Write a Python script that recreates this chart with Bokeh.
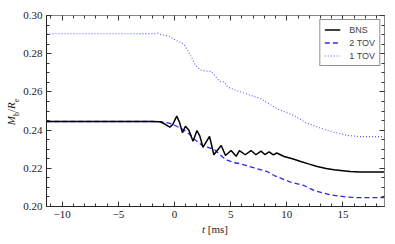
from bokeh.plotting import figure
from bokeh.models import (Range1d, LinearAxis, SingleIntervalTicker, CustomJSTickFormatter,
                          PrintfTickFormatter, Legend, LegendItem, CustomLabelingPolicy, Div)
from bokeh.layouts import column
from bokeh.embed import file_html
from bokeh.resources import INLINE

# ---- data ----
t_bns = [-11.4, -2.0, -1.3, -0.9, -0.42, -0.15, 0.2, 0.45, 0.71, 0.97, 1.27, 1.65, 2.0, 2.25,
         2.53, 3.12, 3.5, 4.16, 4.54, 5.04, 5.49, 5.78, 6.3, 6.81, 7.25, 7.7, 8.05, 8.43, 8.8,
         9.11, 9.76, 10.5, 11.24, 12.0, 12.71, 13.5, 14.19, 15.0, 15.66, 16.5, 17.5, 18.7]
y_bns = [0.2445, 0.2445, 0.2444, 0.2433, 0.2415, 0.2430, 0.2473, 0.2440, 0.2386, 0.2420, 0.2400,
         0.2342, 0.2398, 0.2370, 0.2310, 0.2367, 0.2271, 0.2319, 0.2267, 0.2293, 0.2263, 0.2293,
         0.2271, 0.2293, 0.2271, 0.2290, 0.2272, 0.2286, 0.2270, 0.2280, 0.2262, 0.2250, 0.2236,
         0.2222, 0.2209, 0.2199, 0.2192, 0.2187, 0.2183, 0.2181, 0.2181, 0.2181]

t_2tov = [-11.4, -2.0, -1.3, -0.5, -0.12, 0.76, 1.3, 1.8, 2.39, 3.0, 3.57, 4.3, 4.74, 5.34,
          5.78, 7.1, 8.28, 8.88, 10.35, 11.53, 12.42, 13.9, 15.36, 16.5, 18.7]
y_2tov = [0.2445, 0.2445, 0.2444, 0.2437, 0.2429, 0.2403, 0.2380, 0.2351, 0.2323, 0.2310,
          0.2297, 0.2258, 0.2241, 0.2229, 0.2225, 0.2202, 0.2182, 0.2162, 0.2127, 0.2110,
          0.2084, 0.2061, 0.2049, 0.2046, 0.2046]

t_1tov = [-11.4, -1.74, -1.5, -1.3, -0.42, 0.02, 0.62, 0.91, 1.35, 1.8, 2.24, 2.68, 3.27, 3.57,
          4.0, 4.45, 4.74, 5.34, 5.93, 7.7, 9.17, 10.65, 11.8, 13.6, 15.4, 16.5, 18.7]
y_1tov = [0.2904, 0.2905, 0.2908, 0.2901, 0.2890, 0.2873, 0.2857, 0.2843, 0.2800, 0.2747,
          0.2716, 0.2710, 0.2707, 0.2686, 0.2656, 0.2651, 0.2625, 0.2611, 0.2599, 0.2564,
          0.2511, 0.2476, 0.2436, 0.2398, 0.2372, 0.2366, 0.2366]

series_labels = ["BNS", "2 TOV", "1 TOV"]

SERIF = "Liberation Serif"
SANS = "Liberation Sans"

P_W, P_H = 387, 223
XL_H = 15

p = figure(width=P_W, height=P_H, output_backend="svg", toolbar_location=None,
           x_range=Range1d(-11.4, 18.7), y_range=Range1d(0.20, 0.30),
           min_border_left=46, min_border_right=3, min_border_top=15, min_border_bottom=17)
p.xgrid.visible = False
p.ygrid.visible = False
p.outline_line_color = "#888888"
p.background_fill_color = "white"
p.border_fill_color = "white"

p.xaxis.ticker = SingleIntervalTicker(interval=5, num_minor_ticks=5)
p.yaxis.ticker = SingleIntervalTicker(interval=0.02, num_minor_ticks=4)
p.xaxis.formatter = CustomJSTickFormatter(
    code="return tick < 0 ? '\u2212' + Math.abs(tick).toString() : tick.toString();")
p.yaxis.formatter = PrintfTickFormatter(format="%.2f")

no_labels = CustomLabelingPolicy(code="""
try { for (const i of Array.from(indices)) { indices.unset(i) } } catch (e) {}
return indices
""")

def style_axis(ax, labels=True, color="#222222"):
    ax.axis_line_color = color
    ax.major_tick_in = 5
    ax.major_tick_out = 0
    ax.minor_tick_in = 3
    ax.minor_tick_out = 0
    ax.major_tick_line_color = "#333333"
    ax.minor_tick_line_color = "#333333"
    if labels:
        ax.major_label_text_font = SERIF
        ax.major_label_text_font_size = "11px"
        ax.major_label_text_color = "#222222"
        ax.major_label_standoff = 4
    else:
        ax.major_label_policy = no_labels
        ax.major_label_text_font_size = "1px"
        ax.major_label_text_alpha = 0
        ax.major_label_standoff = 0

for ax in p.xaxis:
    style_axis(ax)
for ax in p.yaxis:
    style_axis(ax)

top = LinearAxis(ticker=SingleIntervalTicker(interval=5, num_minor_ticks=5))
style_axis(top, labels=False, color="#888888")
right = LinearAxis(ticker=SingleIntervalTicker(interval=0.02, num_minor_ticks=4))
style_axis(right, labels=False, color="#888888")
p.add_layout(top, "above")
p.add_layout(right, "right")

r1 = p.line(t_1tov, y_1tov, line_color="#5a5aff", line_width=1.1, line_dash="1 2")
r2 = p.line(t_2tov, y_2tov, line_color="#2a2af0", line_width=1.3, line_dash="5 3")
r0 = p.line(t_bns, y_bns, line_color="black", line_width=1.5)

legend = Legend(items=[LegendItem(label=series_labels[0], renderers=[r0]),
                       LegendItem(label=series_labels[1], renderers=[r2]),
                       LegendItem(label=series_labels[2], renderers=[r1])],
                location="top_right", margin=4, padding=4, spacing=2,
                glyph_width=16, glyph_height=11, label_height=11, label_standoff=9,
                label_text_font=SANS, label_text_font_size="9px",
                border_line_color="#222222", border_line_width=1,
                background_fill_alpha=1.0)
p.add_layout(legend)

# axis labels as real HTML text, placed in a strip under the plot:  t [ms]  and  M_b / R_e
FONT = "font-family:'Liberation Serif';font-size:11px;color:#222;white-space:nowrap;"
labels_html = (
    '<div style="position:relative;width:%dpx;height:%dpx;">'
    '<div style="position:absolute;left:215px;top:0px;transform:translateX(-50%%);line-height:13px;%s">'
    '<i>t</i> [ms]</div>'
    '<div style="position:absolute;left:13.5px;top:-111px;transform:translate(-50%%,-50%%) rotate(-90deg);'
    'line-height:11px;%s">'
    '<i>M</i><sub style="font-size:8px;">b</sub>/<i>R</i><sub style="font-size:8px;">e</sub></div>'
    '</div>' % (P_W, XL_H, FONT, FONT))

ldiv = Div(text=labels_html, width=P_W, height=XL_H, margin=0, styles={"overflow": "visible"})

layout = column(p, ldiv, spacing=0)

open("out.html", "w").write(file_html(layout, INLINE))
